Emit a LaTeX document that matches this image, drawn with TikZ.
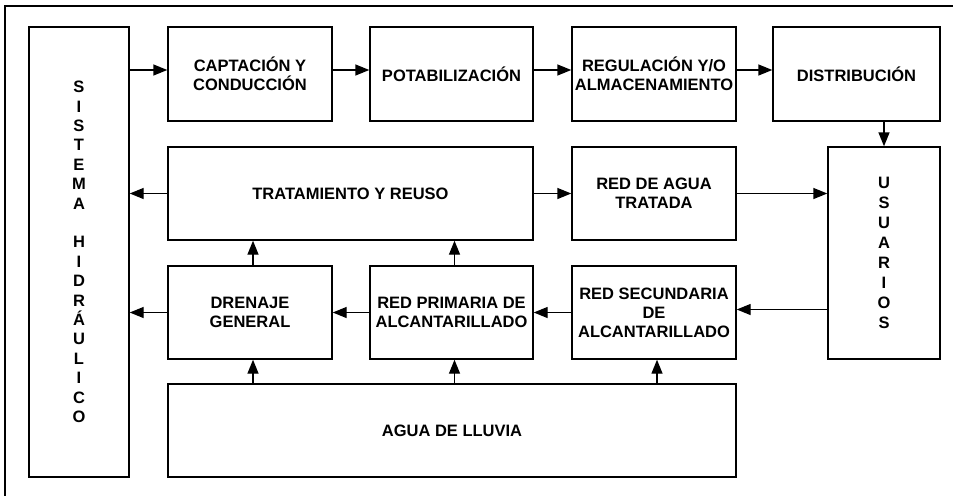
\documentclass[tikz,border=0pt]{standalone}
\usepackage{fontspec}
\setmainfont{Liberation Sans}
\usetikzlibrary{arrows.meta}

\begin{document}
\begin{tikzpicture}[x=1pt, y=-1pt,
    bloque/.style={draw, line width=1.4pt, inner sep=0pt, align=center,
      font=\bfseries\fontsize{16.5}{19}\selectfont},
    flecha/.style={line width=1.4pt, -{Triangle[length=14pt, width=11pt]}}]
      \useasboundingbox (0,0) rectangle (953,496);
      \draw[line width=1.3pt] (953,6) -- (5,6) -- (5,496);

      \node[bloque, minimum width=100, minimum height=450,
        font=\bfseries\fontsize{16.5}{19.4}\selectfont] (sist) at (79,252)
        {S\\I\\S\\T\\E\\M\\A\\ \\H\\I\\D\\R\\Á\\U\\L\\I\\C\\O};

      \node[bloque, minimum width=164, minimum height=94] (capt) at (250,74) {CAPTACIÓN Y\\CONDUCCIÓN};
      \node[bloque, minimum width=163, minimum height=94] (potab) at (451.5,74) {POTABILIZACIÓN};
      \node[bloque, minimum width=164, minimum height=94] (regul) at (654,74) {REGULACIÓN Y/O\\ALMACENAMIENTO};
      \node[bloque, minimum width=167, minimum height=94] (distr) at (856.5,74) {DISTRIBUCIÓN};

      \node[bloque, minimum width=365, minimum height=93] (trat) at (350.5,193.5) {TRATAMIENTO Y REUSO};
      \node[bloque, minimum width=164, minimum height=93] (tratada) at (654,193.5) {RED DE AGUA\\TRATADA};
      \node[bloque, minimum width=112, minimum height=212,
        font=\bfseries\fontsize{16.5}{19.9}\selectfont] (usu) at (884,253)
        {U\\S\\U\\A\\R\\I\\O\\S};

      \node[bloque, minimum width=164, minimum height=93] (dren) at (250,312.5) {DRENAJE\\GENERAL};
      \node[bloque, minimum width=163, minimum height=93] (prim) at (451.5,312.5) {RED PRIMARIA DE\\ALCANTARILLADO};
      \node[bloque, minimum width=164, minimum height=93] (sec) at (654,312.5) {RED SECUNDARIA\\DE\\ALCANTARILLADO};
      \node[bloque, minimum width=568, minimum height=93] (lluvia) at (452,430.5) {AGUA DE LLUVIA};

      % fila superior
      \draw[flecha] ([yshift=4pt]capt.west -| sist.east) -- ([yshift=4pt]capt.west);
      \draw[flecha] ([yshift=4pt]capt.east) -- ([yshift=4pt]potab.west);
      \draw[flecha] ([yshift=4pt]potab.east) -- ([yshift=4pt]regul.west);
      \draw[flecha] ([yshift=4pt]regul.east) -- ([yshift=4pt]distr.west);
      \draw[flecha] (usu.north |- distr.south) -- (usu.north);

      \draw[flecha] (trat.west) -- (trat.west -| sist.east);
      \draw[flecha] (trat.east) -- (tratada.west);
      \draw[flecha] (tratada.east) -- (tratada.east -| usu.west);

      \draw[flecha] ([yshift=3pt]sec.east -| usu.west) -- ([yshift=3pt]sec.east);
      \draw[flecha] (sec.west) -- (prim.east);
      \draw[flecha] (prim.west) -- (dren.east);
      \draw[flecha] (dren.west) -- (dren.west -| sist.east);

      \draw[flecha] ([xshift=3pt]dren.north) -- ([xshift=3pt]dren.north |- trat.south);
      \draw[flecha] ([xshift=3pt]prim.north) -- ([xshift=3pt]prim.north |- trat.south);
      \draw[flecha] ([xshift=3pt]dren.south |- lluvia.north) -- ([xshift=3pt]dren.south);
      \draw[flecha] ([xshift=3pt]prim.south |- lluvia.north) -- ([xshift=3pt]prim.south);
      \draw[flecha] ([xshift=3pt]sec.south |- lluvia.north) -- ([xshift=3pt]sec.south);
\end{tikzpicture}
\end{document}
